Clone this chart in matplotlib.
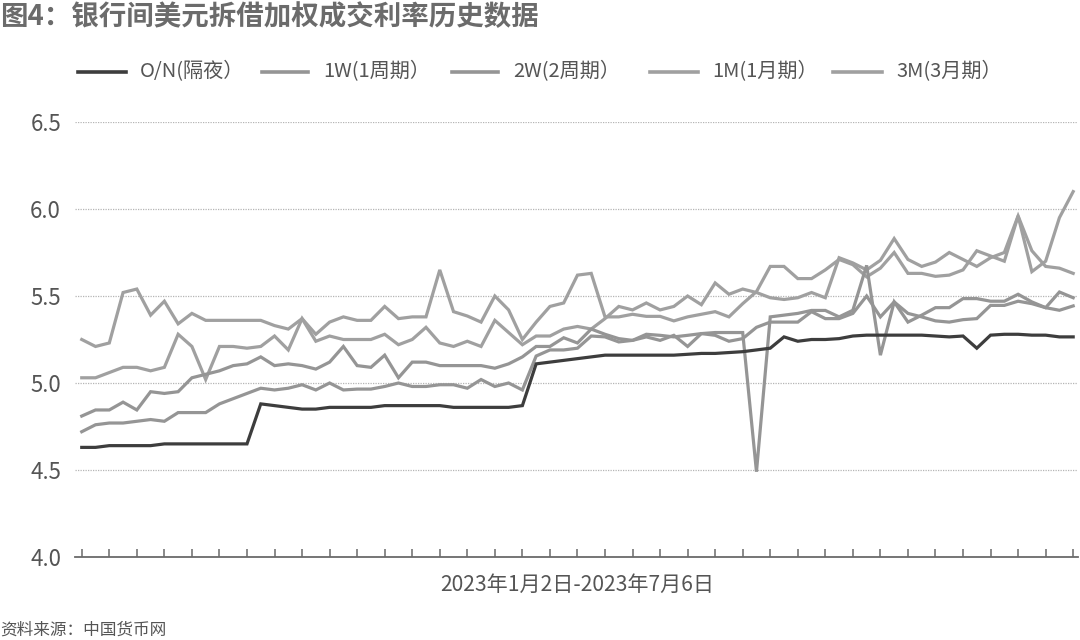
import matplotlib
matplotlib.use("Agg")
import matplotlib.pyplot as plt
from matplotlib.lines import Line2D
import numpy as np

plt.rcParams['font.family'] = ['Noto Sans CJK SC', 'DejaVu Sans']

title = "图4：银行间美元拆借加权成交利率历史数据"
source = "资料来源：中国货币网"
xlabel = "2023年1月2日-2023年7月6日"
series_names = ["O/N(隔夜）", "1W(1周期）", "2W(2周期）", "1M(1月期）", "3M(3月期）"]
yticks = [4.0, 4.5, 5.0, 5.5, 6.0, 6.5]

on_rate = [4.63, 4.63, 4.64, 4.64, 4.64, 4.64, 4.65, 4.65, 4.65, 4.65,
           4.65, 4.65, 4.65, 4.88, 4.87, 4.86, 4.85, 4.85, 4.86, 4.86,
           4.86, 4.86, 4.87, 4.87, 4.87, 4.87, 4.87, 4.86, 4.86, 4.86,
           4.86, 4.86, 4.87, 5.11, 5.12, 5.13, 5.14, 5.15, 5.16, 5.16,
           5.16, 5.16, 5.16, 5.16, 5.165, 5.17, 5.17, 5.175, 5.18, 5.19,
           5.20, 5.265, 5.24, 5.25, 5.25, 5.255, 5.27, 5.275, 5.275, 5.275,
           5.275, 5.275, 5.27, 5.265, 5.27, 5.20, 5.275, 5.28, 5.28, 5.275,
           5.275, 5.265, 5.265]

w1_rate = [4.72, 4.76, 4.77, 4.77, 4.78, 4.79, 4.78, 4.83, 4.83, 4.83,
           4.88, 4.91, 4.94, 4.97, 4.96, 4.97, 4.99, 4.96, 5.00, 4.96,
           4.965, 4.965, 4.98, 5.00, 4.98, 4.98, 4.99, 4.99, 4.97, 5.02,
           4.98, 5.00, 4.96, 5.155, 5.19, 5.19, 5.20, 5.27, 5.265, 5.236,
           5.245, 5.265, 5.245, 5.274, 5.21, 5.284, 5.274, 5.24, 5.255, 5.32,
           5.35, 5.35, 5.35, 5.41, 5.37, 5.37, 5.40, 5.50, 5.38, 5.466,
           5.40, 5.38, 5.357, 5.35, 5.364, 5.37, 5.446, 5.446, 5.47, 5.456,
           5.433, 5.418, 5.443]

w2_rate = [4.81, 4.845, 4.845, 4.89, 4.845, 4.95, 4.94, 4.95, 5.03, 5.05,
           5.07, 5.10, 5.11, 5.15, 5.10, 5.11, 5.10, 5.08, 5.12, 5.21,
           5.10, 5.09, 5.16, 5.03, 5.12, 5.12, 5.10, 5.10, 5.10, 5.10,
           5.085, 5.11, 5.15, 5.21, 5.21, 5.26, 5.23, 5.31, 5.28, 5.255,
           5.245, 5.28, 5.274, 5.265, 5.274, 5.284, 5.29, 5.29, 5.29, 4.49,
           5.38, 5.39, 5.40, 5.417, 5.417, 5.38, 5.418, 5.676, 5.16, 5.466,
           5.35, 5.39, 5.433, 5.433, 5.485, 5.485, 5.47, 5.47, 5.51, 5.466,
           5.433, 5.523, 5.49]

m1_rate = [5.03, 5.03, 5.06, 5.09, 5.09, 5.07, 5.09, 5.28, 5.21, 5.02,
           5.21, 5.21, 5.20, 5.21, 5.27, 5.19, 5.37, 5.24, 5.27, 5.25,
           5.25, 5.25, 5.28, 5.22, 5.25, 5.32, 5.23, 5.21, 5.24, 5.21,
           5.36, 5.29, 5.22, 5.27, 5.27, 5.31, 5.325, 5.31, 5.37, 5.44,
           5.42, 5.46, 5.42, 5.44, 5.50, 5.45, 5.575, 5.51, 5.54, 5.52,
           5.49, 5.48, 5.49, 5.52, 5.49, 5.72, 5.69, 5.65, 5.705, 5.83,
           5.71, 5.67, 5.695, 5.75, 5.71, 5.67, 5.72, 5.75, 5.96, 5.76,
           5.67, 5.66, 5.63]

m3_rate = [5.25, 5.21, 5.23, 5.52, 5.54, 5.39, 5.47, 5.34, 5.40, 5.36,
           5.36, 5.36, 5.36, 5.36, 5.33, 5.31, 5.37, 5.28, 5.35, 5.38,
           5.36, 5.36, 5.44, 5.37, 5.38, 5.38, 5.65, 5.41, 5.385, 5.35,
           5.50, 5.42, 5.25, 5.35, 5.44, 5.46, 5.62, 5.63, 5.38, 5.38,
           5.395, 5.383, 5.383, 5.357, 5.38, 5.395, 5.41, 5.38, 5.456, 5.525,
           5.67, 5.67, 5.60, 5.60, 5.65, 5.71, 5.68, 5.61, 5.66, 5.75,
           5.63, 5.63, 5.613, 5.62, 5.65, 5.76, 5.73, 5.70, 5.96, 5.64,
           5.70, 5.95, 6.10]

series = [on_rate, w1_rate, w2_rate, m1_rate, m3_rate]
colors = ["#3d3d3d", "#959595", "#959595", "#a0a0a0", "#a0a0a0"]

W, H = 1080, 640
fig = plt.figure(figsize=(W / 100, H / 100), dpi=100)
ax = fig.add_axes([75 / W, (H - 557) / H, (1078 - 75) / W, (557 - 122) / H])

n = len(on_rate)
x = np.arange(n)
for vals, col in list(zip(series, colors))[::-1]:
    ax.plot(x, vals, color=col, lw=2.3, solid_joinstyle='miter',
            zorder=3 if col == "#3d3d3d" else 2)

ax.set_ylim(4.0, 6.5)
ax.set_xlim(-0.49, n - 1 + 0.35)
ax.set_yticks(yticks)
ax.set_yticklabels([f"{v:.1f}" for v in yticks])
ax.yaxis.grid(True, linestyle=(0, (1, 1)), color="#b5b5b5", lw=0.9)
ax.set_axisbelow(True)
for s in ["top", "right", "left"]:
    ax.spines[s].set_visible(False)
ax.spines["bottom"].set_color("#6a6a6a")
ax.spines["bottom"].set_linewidth(1.3)
ax.tick_params(axis="y", length=0, pad=10, labelsize=16, labelcolor="#555555")
ax.set_xticks(np.arange(0, n, 2))
ax.set_xticklabels([])
ax.tick_params(axis="x", direction="in", length=6, width=1.1, color="#6a6a6a")

fig.text(577 / W, 1 - 585 / H, xlabel, ha="center", va="center", fontsize=15.2, color="#555555")
fig.text(0, 1 - 17 / H, title, ha="left", va="center", fontsize=19.8, fontweight="bold", color="#6b6b6b")
fig.text(0, 1 - 630 / H, source, ha="left", va="center", fontsize=12, color="#555555")

# legend
leg_y = 1 - 72 / H
handle_x = [(78, 126), (262, 308), (452, 498), (650, 698), (833, 882)]
text_x = [140, 323, 513, 712, 896]
for (x0, x1), tx, name, col in zip(handle_x, text_x, series_names, colors):
    fig.add_artist(Line2D([x0 / W, x1 / W], [leg_y, leg_y], color=col, lw=2.6,
                          transform=fig.transFigure))
    fig.text(tx / W, leg_y, name, ha="left", va="center", fontsize=14.5, color="#555555",
             family=['Noto Sans CJK TC', 'DejaVu Sans'])

fig.savefig("out.png", dpi=100)
